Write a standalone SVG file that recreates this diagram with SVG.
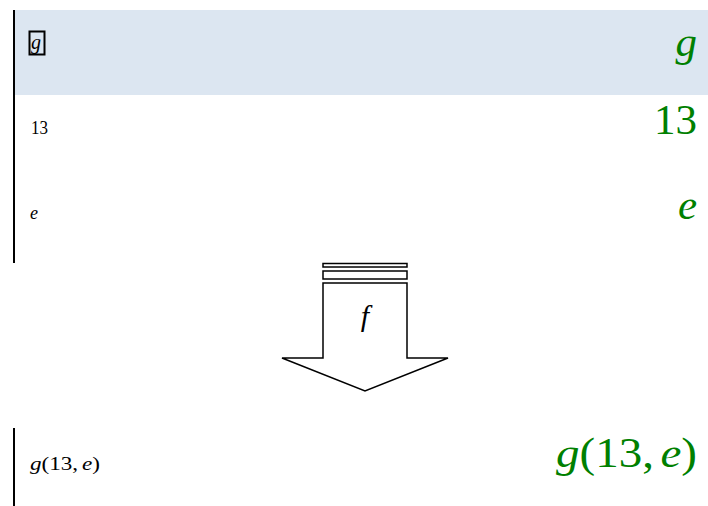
<svg xmlns="http://www.w3.org/2000/svg" width="708" height="506" viewBox="0 0 708 506">
<style>
.sm{font-family:"Liberation Serif","DejaVu Serif",serif;font-size:18px;fill:#000}
.big{font-family:"Liberation Serif","DejaVu Serif",serif;font-size:43px;fill:#008000}
.it{font-style:italic}
.ln{stroke:#000;stroke-width:2;fill:none}
.sh{stroke:#000;stroke-width:1.5;fill:#fff}
</style>
<rect x="14" y="10" width="694" height="85" fill="#dce6f1"/>
<g id="row-g">
<rect x="29.5" y="31.5" width="15" height="23" fill="none" stroke="#000" stroke-width="2"/>
<text class="sm it" x="31" y="49" style="font-size:20px">g</text>
<text class="big it" x="697" y="56" text-anchor="end">g</text>
</g>
<g id="row-13">
<text class="sm" x="31" y="134" textLength="17" lengthAdjust="spacingAndGlyphs">13</text>
<text class="big" x="697" y="134" text-anchor="end">13</text>
</g>
<g id="row-e">
<text class="sm it" x="30" y="219">e</text>
<text class="big it" x="697" y="219" text-anchor="end">e</text>
</g>
<g id="left-bars">
<line class="ln" x1="14" y1="10" x2="14" y2="263"/>
<line class="ln" x1="14" y1="428" x2="14" y2="506"/>
</g>
<g id="arrow-f">
<rect class="sh" x="323" y="263.5" width="84" height="3.5"/>
<rect class="sh" x="323" y="271" width="84" height="8"/>
<path class="sh" d="M323,283 L407,283 L407,358 L448,358 L365,391 L282,358 L323,358 Z"/>
<text class="sm it" x="365" y="326" text-anchor="middle" style="font-size:30px">f</text>
</g>
<g id="row-result">
<text class="sm" x="30" y="470" textLength="70" lengthAdjust="spacingAndGlyphs"><tspan class="it">g</tspan>(13,<tspan class="it" dx="3">e</tspan>)</text>
<text class="big" x="556" y="467" textLength="141" lengthAdjust="spacingAndGlyphs"><tspan class="it">g</tspan>(13,<tspan class="it" dx="6">e</tspan>)</text>
</g>
</svg>
